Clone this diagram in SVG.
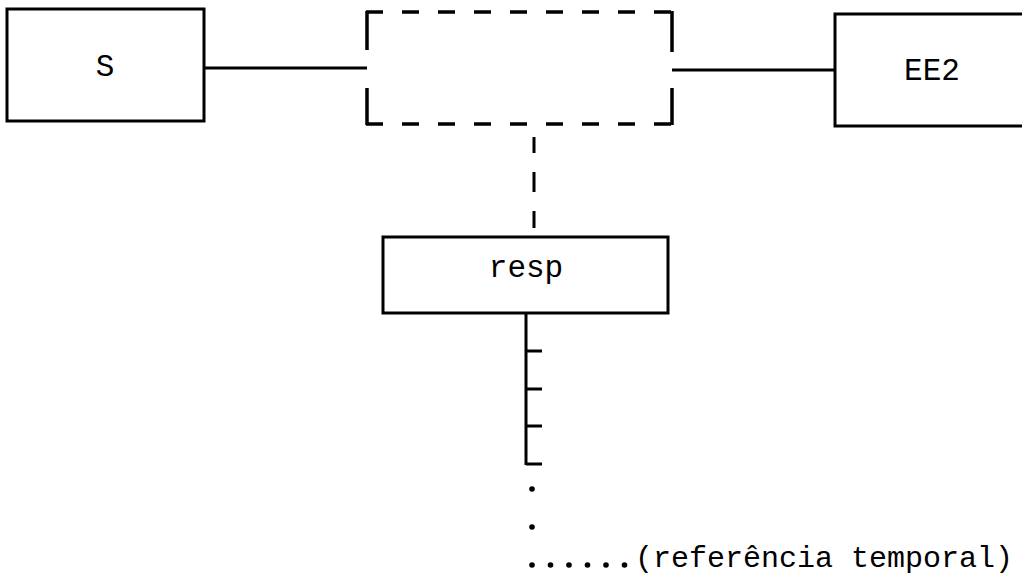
<svg xmlns="http://www.w3.org/2000/svg" width="1022" height="577" viewBox="0 0 1022 577">
  <style>
    .box { fill: #ffffff; stroke: #000000; stroke-width: 3; }
    .ln { stroke: #000000; stroke-width: 3; fill: none; stroke-linecap: butt; }
    .dash { stroke: #000000; stroke-width: 3.5; fill: none; }
    .dot { fill: #000000; }
    .lbl { font-family: "Liberation Mono", "DejaVu Sans Mono", monospace; font-size: 31px; fill: #000000; }
    .note { font-family: "Liberation Mono", "DejaVu Sans Mono", monospace; font-size: 30px; fill: #000000; }
  </style>
  <rect width="1022" height="577" fill="#ffffff"/>

  <!-- connectors -->
  <g id="connectors">
    <line class="ln" x1="204" y1="68" x2="367" y2="68"/>
    <line class="ln" x1="672" y1="70" x2="835" y2="70"/>
    <!-- dashed link from the dashed box down to resp -->
    <line class="ln" x1="534" y1="137" x2="534" y2="153"/>
    <line class="ln" x1="534" y1="172" x2="534" y2="192"/>
    <line class="ln" x1="534" y1="211" x2="534" y2="228"/>
    <!-- time axis below resp -->
    <g id="timeline">
      <line class="ln" x1="526" y1="313" x2="526" y2="465"/>
      <line class="ln" x1="526" y1="351" x2="542" y2="351"/>
      <line class="ln" x1="526" y1="389" x2="542" y2="389"/>
      <line class="ln" x1="526" y1="426" x2="542" y2="426"/>
      <line class="ln" x1="526" y1="464" x2="542" y2="464"/>
      <circle class="dot" cx="532" cy="489" r="2.8"/>
      <circle class="dot" cx="532" cy="527" r="2.8"/>
      <circle class="dot" cx="532" cy="565" r="2.8"/>
      <circle class="dot" cx="550.5" cy="565" r="2.8"/>
      <circle class="dot" cx="569" cy="565" r="2.8"/>
      <circle class="dot" cx="587.5" cy="565" r="2.8"/>
      <circle class="dot" cx="606" cy="565" r="2.8"/>
      <circle class="dot" cx="624.5" cy="565" r="2.8"/>
      <text class="note" x="635" y="567">(referência temporal)</text>
    </g>
  </g>

  <g id="node-S">
    <rect class="box" x="7" y="9" width="197" height="112"/>
    <text class="lbl" x="105" y="76" text-anchor="middle">S</text>
  </g>

  <g id="node-dashed">
    <!-- left side, broken where the connector enters -->
    <line class="dash" x1="367" y1="11" x2="367" y2="50"/>
    <line class="dash" x1="367" y1="88" x2="367" y2="125"/>
    <!-- right side -->
    <line class="dash" x1="672" y1="11" x2="672" y2="52"/>
    <line class="dash" x1="672" y1="88" x2="672" y2="125"/>
    <!-- top and bottom edges -->
    <line class="dash" x1="366" y1="12" x2="674" y2="12" stroke-dasharray="17 19"/>
    <line class="dash" x1="366" y1="124" x2="674" y2="124" stroke-dasharray="17 19"/>
  </g>

  <g id="node-EE2">
    <rect class="box" x="835" y="14" width="200" height="112"/>
    <text class="lbl" x="932" y="80" text-anchor="middle">EE2</text>
  </g>

  <g id="node-resp">
    <rect class="box" x="383" y="237" width="285" height="76"/>
    <text class="lbl" x="526" y="277" text-anchor="middle">resp</text>
  </g>
</svg>
